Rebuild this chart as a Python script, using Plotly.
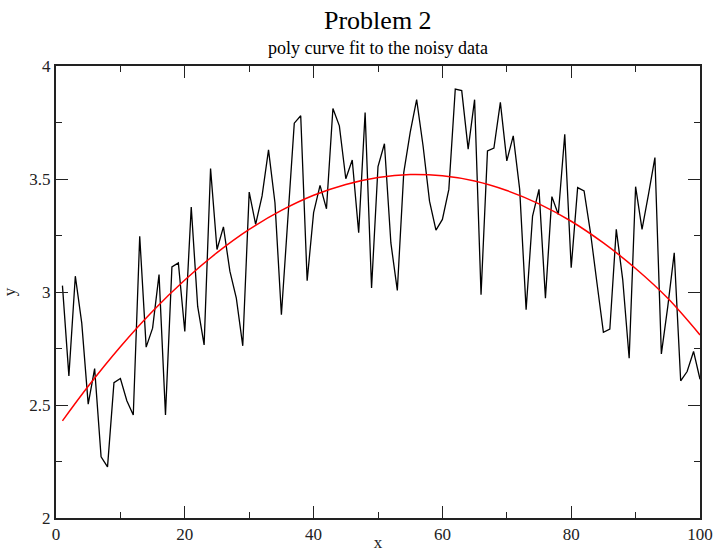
import plotly.graph_objects as go

# noisy data (x = 1..100)
x_data = list(range(1, 101))
y_data = [
    3.028, 2.629, 3.070, 2.862, 2.504, 2.661, 2.271, 2.226, 2.599, 2.617,
    2.519, 2.456, 3.247, 2.756, 2.840, 3.077, 2.456, 3.111, 3.129, 2.825,
    3.376, 2.936, 2.766, 3.546, 3.188, 3.288, 3.092, 2.973, 2.762, 3.442,
    3.299, 3.425, 3.629, 3.395, 2.899, 3.330, 3.747, 3.780, 3.050, 3.351,
    3.472, 3.368, 3.812, 3.735, 3.501, 3.584, 3.262, 3.794, 3.018, 3.555,
    3.656, 3.217, 3.007, 3.528, 3.706, 3.851, 3.646, 3.402, 3.274, 3.321,
    3.454, 3.898, 3.891, 3.632, 3.851, 2.988, 3.624, 3.637, 3.839, 3.580,
    3.691, 3.454, 2.922, 3.336, 3.454, 2.973, 3.422, 3.343, 3.698, 3.107,
    3.462, 3.447, 3.262, 3.040, 2.822, 2.836, 3.277, 3.055, 2.707, 3.466,
    3.277, 3.432, 3.595, 2.726, 2.936, 3.173, 2.607, 2.648, 2.737, 2.614,
]

# polynomial fit curve
x_fit = [1, 5, 10, 15, 20, 25, 30, 35, 40, 45, 50, 55, 60, 65, 70, 75, 80, 85, 90, 95, 100]
y_fit = [2.430, 2.583, 2.758, 2.915, 3.053, 3.174, 3.277, 3.361, 3.428, 3.476,
         3.507, 3.520, 3.514, 3.491, 3.449, 3.390, 3.313, 3.217, 3.104, 2.972, 2.810]

x_ticks = [0, 20, 40, 60, 80, 100]
y_ticks = [2, 2.5, 3, 3.5, 4]
y_tick_text = ["2", "2.5", "3", "3.5", "4"]

serif = "Liberation Serif"

fig = go.Figure()
fig.add_trace(go.Scatter(x=x_data, y=y_data, mode="lines",
                         line=dict(color="black", width=1.3), showlegend=False))
fig.add_trace(go.Scatter(x=x_fit, y=y_fit, mode="lines",
                         line=dict(color="#ff0000", width=1.5, shape="spline"),
                         showlegend=False))

axis_common = dict(
    showgrid=False, zeroline=False, showline=True, linecolor="#222222", linewidth=2,
    mirror="allticks", ticks="inside", ticklen=12, tickwidth=1.2, tickcolor="#222222",
    tickfont=dict(family=serif, size=17, color="#222222"),
)

fig.update_xaxes(range=[0, 100], tickvals=x_ticks,
                 minor=dict(dtick=10, ticks="inside", ticklen=6, tickwidth=1.2, tickcolor="#222222"),
                 title=dict(text="x", font=dict(family=serif, size=17, color="#222222"), standoff=0),
                 automargin=False, **axis_common)
fig.update_yaxes(range=[2, 4], tickvals=y_ticks, ticktext=y_tick_text,
                 minor=dict(dtick=0.25, ticks="inside", ticklen=6, tickwidth=1.2, tickcolor="#222222"),
                 title=dict(text="y", font=dict(family=serif, size=17, color="#222222"), standoff=10),
                 automargin=False, **axis_common)

fig.add_annotation(text="Problem 2", xref="paper", yref="paper", x=0.5, y=1,
                   yshift=46, showarrow=False, yanchor="middle",
                   font=dict(family=serif, size=26, color="black"))
fig.add_annotation(text="poly curve fit to the noisy data", xref="paper", yref="paper",
                   x=0.5, y=1, yshift=18, showarrow=False, yanchor="middle",
                   font=dict(family=serif, size=18, color="black"))

fig.update_layout(
    width=715, height=552,
    margin=dict(l=56, r=15, t=66, b=34),
    paper_bgcolor="white", plot_bgcolor="white",
)

fig.write_html("out.html", config={"displayModeBar": False},
               post_script="document.body.style.margin='0';")
